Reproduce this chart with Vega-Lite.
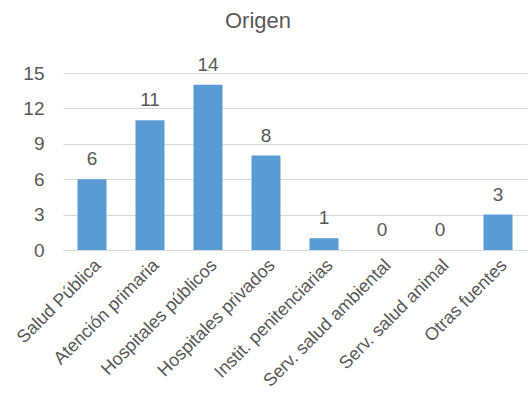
{
  "$schema": "https://vega.github.io/schema/vega-lite/v6.json",
  "autosize": "none",
  "padding": {"left": 63, "top": 73, "right": 5, "bottom": 150},
  "width": 464,
  "height": 177,
  "background": "white",
  "title": {"text": "Origen", "anchor": "middle", "frame": "group", "offset": 23, "dx": -37, "fontSize": 22, "font": "Liberation Sans", "fontWeight": "normal", "color": "#595959"},
  "data": {"values": [
    {"origen": "Salud Pública", "n": 6},
    {"origen": "Atención primaria", "n": 11},
    {"origen": "Hospitales públicos", "n": 14},
    {"origen": "Hospitales privados", "n": 8},
    {"origen": "Instit. penitenciarias", "n": 1},
    {"origen": "Serv. salud ambiental", "n": 0},
    {"origen": "Serv. salud animal", "n": 0},
    {"origen": "Otras fuentes", "n": 3}
  ]},
  "encoding": {
    "x": {"field": "origen", "type": "nominal", "sort": null, "title": null,
      "scale": {"paddingInner": 0.5, "paddingOuter": 0.25},
      "axis": {"labelAngle": -45, "labelFont": "Liberation Sans", "labelFontSize": 18, "labelColor": "#595959", "ticks": false, "domainColor": "#D9D9D9", "domainWidth": 1, "labelPadding": 6, "labelLimit": 300}},
    "y": {"field": "n", "type": "quantitative", "title": null,
      "scale": {"domain": [0, 15], "nice": false},
      "axis": {"values": [0, 3, 6, 9, 12, 15], "labelFont": "Liberation Sans", "labelFontSize": 19, "labelColor": "#595959", "ticks": false, "domain": false, "gridColor": "#D9D9D9", "gridWidth": 1, "labelPadding": 19}}
  },
  "layer": [
    {"mark": {"type": "bar", "color": "#5B9BD5"}},
    {"mark": {"type": "text", "dy": -20, "font": "Liberation Sans", "fontSize": 19, "color": "#595959"},
     "encoding": {"text": {"field": "n", "type": "quantitative"}}}
  ],
  "config": {"view": {"stroke": null}}
}
